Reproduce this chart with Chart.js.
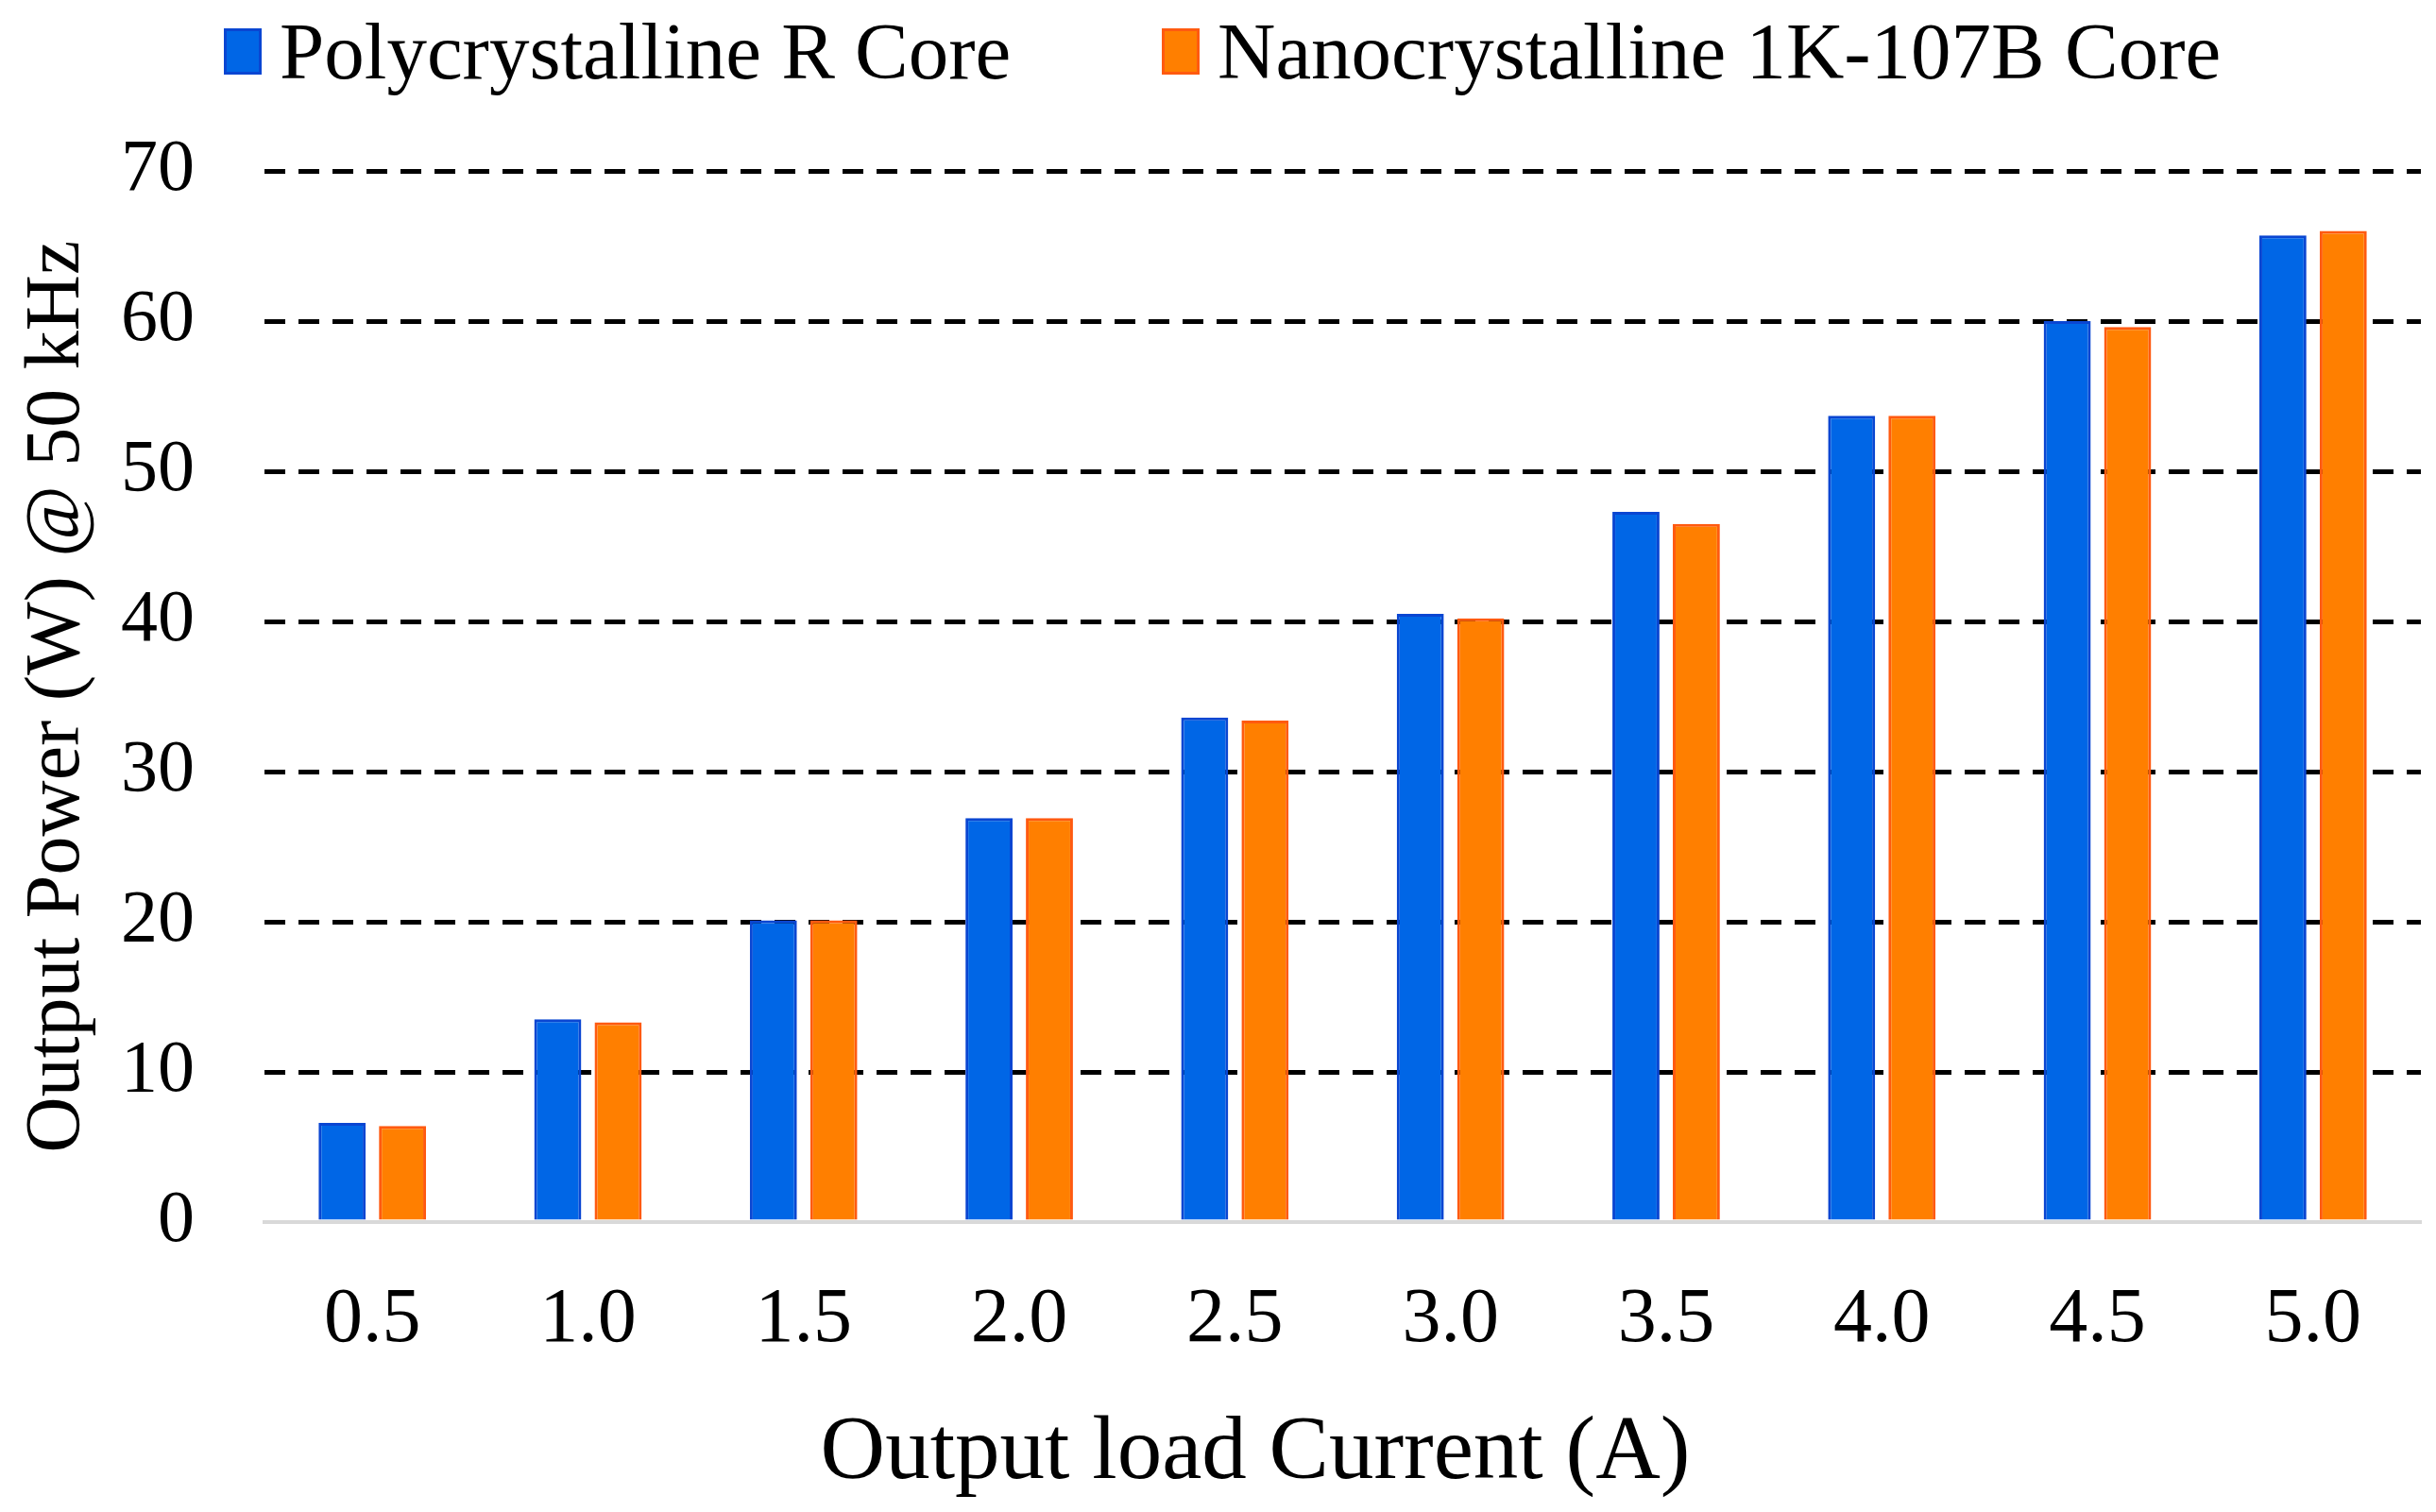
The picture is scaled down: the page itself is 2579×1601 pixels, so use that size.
<!DOCTYPE html>
<html>
<head>
<meta charset="utf-8">
<script src="https://cdn.jsdelivr.net/npm/chart.js@4.4.1/dist/chart.umd.min.js"></script>
<style>
  html, body { margin: 0; padding: 0; background: #fff; }
  #wrap { position: relative; width: 2579px; height: 1601px; }
  #c { position: absolute; left: 0; top: 0; }
  .leg { position: absolute; top: 0; height: 108px; display: flex; align-items: center;
         font-family: "Liberation Serif", "Times New Roman", serif; font-size: 85px; color: #000; white-space: nowrap; }
  .leg .box { width: 40px; height: 49px; margin-right: 19px; box-sizing: border-box; }
  #xtitle { position: absolute; left: 1329px; top: 1533px; transform: translate(-50%, -50%);
            font-family: "Liberation Serif", "Times New Roman", serif; font-size: 95px; line-height: 1; color: #000; white-space: nowrap; }
</style>
</head>
<body>
<div id="wrap">
  <canvas id="c" width="2579" height="1601"></canvas>
  <div id="legend"></div>
  <div id="xtitle"></div>
</div>
<script>
const categories = ["0.5", "1.0", "1.5", "2.0", "2.5", "3.0", "3.5", "4.0", "4.5", "5.0"];
const polyValues = [6.6, 13.5, 20.1, 26.9, 33.6, 40.5, 47.3, 53.7, 60.0, 65.7];
const nanoValues = [6.4, 13.3, 20.1, 26.9, 33.4, 40.2, 46.5, 53.7, 59.6, 66.0];
const seriesNames = ["Polycrystalline R Core", "Nanocrystalline 1K-107B Core"];
const yTicks = [0, 10, 20, 30, 40, 50, 60, 70];
const xTitle = "Output load Current (A)";
const yTitle = "Output Power (W) @ 50 kHz";

const serif = "'Liberation Serif', 'Times New Roman', serif";
const colors = [
  { fill: "#0066e6", border: "#0a46d2" },
  { fill: "#ff7f00", border: "#ff5a10" }
];

const chart = new Chart(document.getElementById("c"), {
  type: "bar",
  data: {
    labels: categories,
    datasets: [
      { label: seriesNames[0], data: polyValues, backgroundColor: colors[0].fill, borderColor: colors[0].border, borderWidth: 3 },
      { label: seriesNames[1], data: nanoValues, backgroundColor: colors[1].fill, borderColor: colors[1].border, borderWidth: 3 }
    ]
  },
  options: {
    responsive: false,
    animation: false,
    devicePixelRatio: 1,
    datasets: { bar: { categoryPercentage: 0.56, barPercentage: 0.78 } },
    layout: { padding: { top: 181, left: 12, right: 16, bottom: 11 } },
    plugins: { legend: { display: false }, tooltip: { enabled: false } },
    scales: {
      x: {
        afterFit: (axis) => { axis.height = 296; },
        grid: { display: false },
        border: { display: true, color: "#d9d9d9", width: 4 },
        ticks: { color: "#000", font: { family: serif, size: 82 }, padding: 47 },
        title: { display: false, text: xTitle }
      },
      y: {
        min: 0, max: 70,
        afterFit: (axis) => { axis.width = 268; },
        afterBuildTicks: (axis) => { axis.ticks = yTicks.map(v => ({ value: v })); },
        grid: {
          drawTicks: false,
          lineWidth: 5,
          color: (ctx) => (ctx.tick && ctx.tick.value === 0) ? "rgba(0,0,0,0)" : "#000"
        },
        border: { display: false, dash: [22, 14] },
        ticks: { color: "#000", font: { family: serif, size: 78 }, padding: 74 },
        title: { display: true, text: yTitle, color: "#000", font: { family: serif, size: 82 }, padding: { top: 0, bottom: 0 } }
      }
    }
  }
});

// x-axis title (placed as in the reference, slightly left of the plot centre)
document.getElementById("xtitle").textContent = chart.options.scales.x.title.text;

// HTML legend built from the chart's datasets
const legendEl = document.getElementById("legend");
const legendX = [237, 1230];
chart.data.datasets.forEach((ds, i) => {
  const item = document.createElement("div");
  item.className = "leg";
  item.style.left = legendX[i] + "px";
  const box = document.createElement("span");
  box.className = "box";
  box.style.background = ds.backgroundColor;
  box.style.border = "3px solid " + ds.borderColor;
  const txt = document.createElement("span");
  txt.textContent = ds.label;
  item.appendChild(box);
  item.appendChild(txt);
  legendEl.appendChild(item);
});
</script>
</body>
</html>
